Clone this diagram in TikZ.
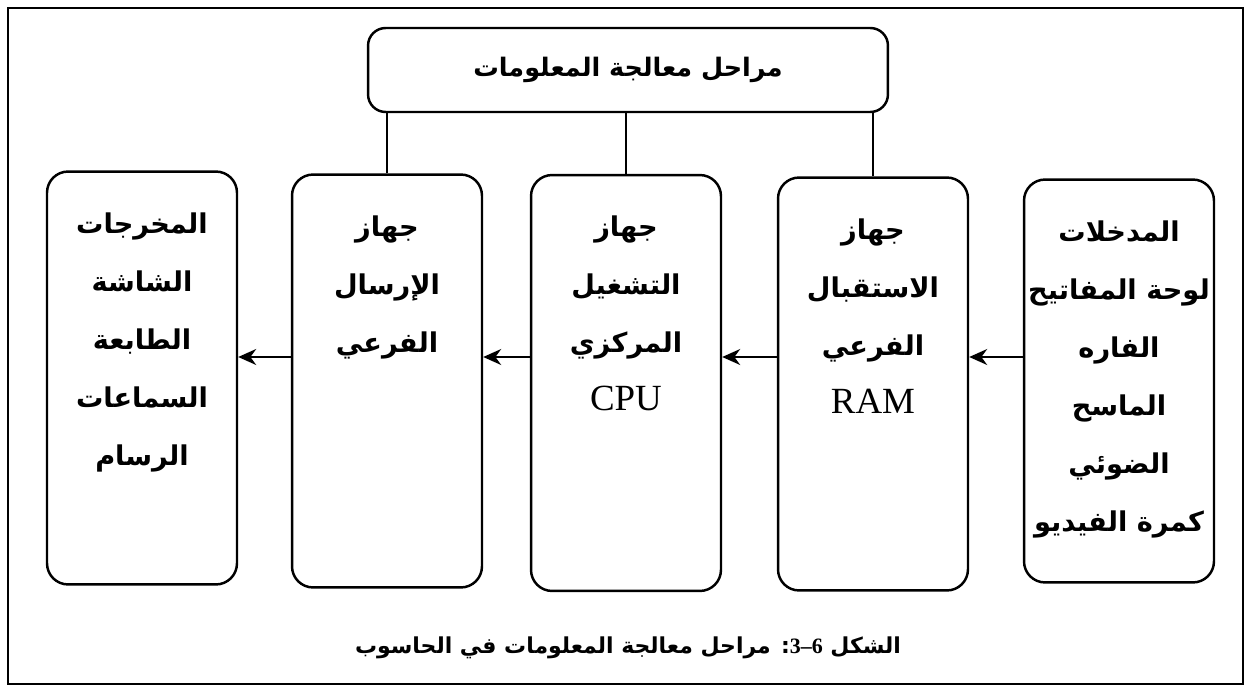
\documentclass[tikz,border=0pt]{standalone}
\usepackage{fontspec}
\setmainfont{Liberation Serif}
\newfontfamily\arabicfont[Script=Arabic]{DejaVu Sans}
\TeXXeTstate=1
\usetikzlibrary{arrows.meta,positioning}
\newcommand{\ar}[1]{{\arabicfont\bfseries\beginR #1\endR}}
\newcommand{\lat}[1]{{\fontsize{21}{33}\selectfont #1}}

\tikzset{
  stage/.style={draw, line width=1.4pt, rounded corners=12pt, minimum width=3.8cm, inner sep=0pt},
  stagetext/.style={align=center, font=\fontsize{15.5}{33}\selectfont, inner sep=0pt},
  link/.style={line width=1pt},
  flow/.style={line width=1.1pt, -{Stealth[length=3.6mm,width=3.2mm]}}
}

\begin{document}
\begin{tikzpicture}[x=0.02cm, y=-0.02cm]
  \useasboundingbox (0,0) rectangle (1249,693);
  \draw[line width=1.6pt] (8,8) rectangle (1243,684);

  \node[draw, line width=1.4pt, rounded corners=10pt, minimum width=10.4cm, minimum height=1.68cm,
        font=\fontsize{14.5}{18}\selectfont] (stages) at (628,70) {\ar{مراحل معالجة المعلومات}};

  \foreach \n/\x/\y/\h/\t in {
      out/142/378/8.26/{\ar{المخرجات}\\\ar{الشاشة}\\\ar{الطابعة}\\\ar{السماعات}\\\ar{الرسام}},
      send/387/381/8.26/{\ar{جهاز}\\\ar{الإرسال}\\\ar{الفرعي}},
      cpu/626/383/8.32/{\ar{جهاز}\\\ar{التشغيل}\\\ar{المركزي}\\\lat{CPU}},
      recv/873/384/8.26/{\ar{جهاز}\\\ar{الاستقبال}\\\ar{الفرعي}\\\lat{RAM}},
      in/1119/381/8.06/{\ar{المدخلات}\\\ar{لوحة المفاتيح}\\\ar{الفاره}\\\ar{الماسح}\\\ar{الضوئي}\\\ar{كمرة الفيديو}}}{
    \node[stage, minimum height=\h cm] (\n) at (\x,\y) {};
    \node[stagetext, below=0.84cm of \n.north] (\n-txt) {\t};
  }

  \coordinate (mid) at (0,357);
  \foreach \a/\b in {in/recv, recv/cpu, cpu/send, send/out}
    \draw[flow] (\a.west |- mid) -- (\b.east |- mid);

  \foreach \b in {send, cpu, recv}
    \draw[link] (\b.north) -- (\b.north |- stages.south);

  \node[font=\fontsize{12.5}{15}\selectfont] (caption) at (628,648)
    {\ar{الشكل \beginL{\rmfamily\bfseries 3–6}\endL: مراحل معالجة المعلومات في الحاسوب}};
\end{tikzpicture}
\end{document}
